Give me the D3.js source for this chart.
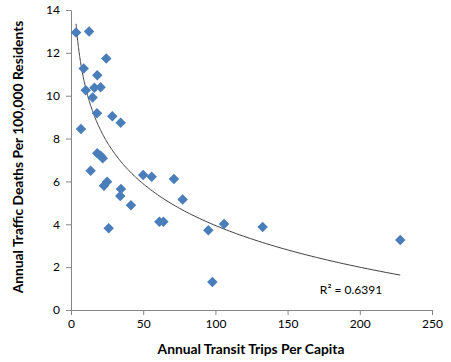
<!DOCTYPE html>
<html lang="en"><head><meta charset="utf-8">
<script src="https://cdn.jsdelivr.net/npm/d3@7"></script>
<style>
  body { margin: 0; background: #fff; }
  text { font-family: Lato, "Liberation Sans", sans-serif; }
</style>
</head>
<body>
<script>
// transit trips per capita vs traffic deaths per 100k
var tripsPerCapita = [3.5, 12.5, 24.4, 8.8, 18.2, 10.2, 16.2, 20.5, 15, 18, 28.6, 34.4,
  6.9, 18.2, 20.5, 22, 13.6, 25, 22.8, 34.6, 34.1, 41.5, 26.1,
  50, 55.9, 71.3, 77.3, 61.2, 64, 95.1, 106, 132.7, 97.9, 228];
var deathsPer100k = [12.95, 13.0, 11.74, 11.27, 10.95, 10.25, 10.37, 10.39, 9.92, 9.18, 9.04, 8.74,
  8.45, 7.31, 7.2, 7.08, 6.5, 5.99, 5.8, 5.65, 5.32, 4.89, 3.81,
  6.3, 6.22, 6.11, 5.16, 4.12, 4.12, 3.72, 4.01, 3.87, 1.31, 3.27];
var xTicks = [0, 50, 100, 150, 200, 250];
var yTicks = [0, 2, 4, 6, 8, 10, 12, 14];
var rSquaredLabel = "R\u00B2 = 0.6391";
// log trendline y = a*ln(x) + b
var trendA = -2.807, trendB = 16.87;

var width = 451, height = 362;
var plotLeft = 71, plotRight = 432, plotTop = 10, plotBottom = 310;

var svg = d3.select("body").append("svg")
  .attr("width", width).attr("height", height);

var x = d3.scaleLinear().domain([0, 250]).range([plotLeft, plotRight]);
var y = d3.scaleLinear().domain([0, 14]).range([plotBottom, plotTop]);

var axisColor = "#868686";

var xAxis = svg.append("g")
  .attr("transform", "translate(0," + plotBottom + ")")
  .call(d3.axisBottom(x).tickValues(xTicks).tickSize(5).tickPadding(4));
var yAxis = svg.append("g")
  .attr("transform", "translate(" + plotLeft + ",0)")
  .call(d3.axisLeft(y).tickValues(yTicks).tickSize(5).tickPadding(6));

[xAxis, yAxis].forEach(function(g) {
  g.select(".domain").attr("stroke", axisColor);
  g.selectAll(".tick line").attr("stroke", axisColor);
  g.selectAll(".tick text").attr("fill", "#000").style("font-size", "12px")
    .style("font-family", "Lato, sans-serif");
});

var xmin = d3.min(tripsPerCapita), xmax = d3.max(tripsPerCapita);
var trend = d3.range(0, 201).map(function(i) {
  var xv = Math.exp(Math.log(xmin) + (Math.log(xmax) - Math.log(xmin)) * i / 200);
  return [xv, trendA * Math.log(xv) + trendB];
});

svg.append("path")
  .datum(trend)
  .attr("fill", "none")
  .attr("stroke", "#404040")
  .attr("stroke-width", 1)
  .attr("d", d3.line().x(d => x(d[0])).y(d => y(d[1])));

svg.selectAll(".pt")
  .data(tripsPerCapita)
  .enter().append("path")
  .attr("class", "pt")
  .attr("transform", (d, i) => "translate(" + x(d) + "," + y(deathsPer100k[i]) + ")")
  .attr("d", d3.symbol().type(d3.symbolDiamond2).size(70))
  .attr("fill", "#4a7ebb");

svg.append("text")
  .attr("x", 351).attr("y", 294)
  .attr("text-anchor", "middle")
  .style("font-size", "12px")
  .text(rSquaredLabel);

svg.append("text")
  .attr("x", 251).attr("y", 354)
  .attr("text-anchor", "middle")
  .style("font-size", "13.8px").style("font-weight", "bold")
  .text("Annual Transit Trips Per Capita");

svg.append("text")
  .attr("transform", "translate(23,157) rotate(-90)")
  .attr("text-anchor", "middle")
  .style("font-size", "13.8px").style("font-weight", "bold")
  .text("Annual Traffic Deaths Per 100,000 Residents");
</script>
</body></html>
